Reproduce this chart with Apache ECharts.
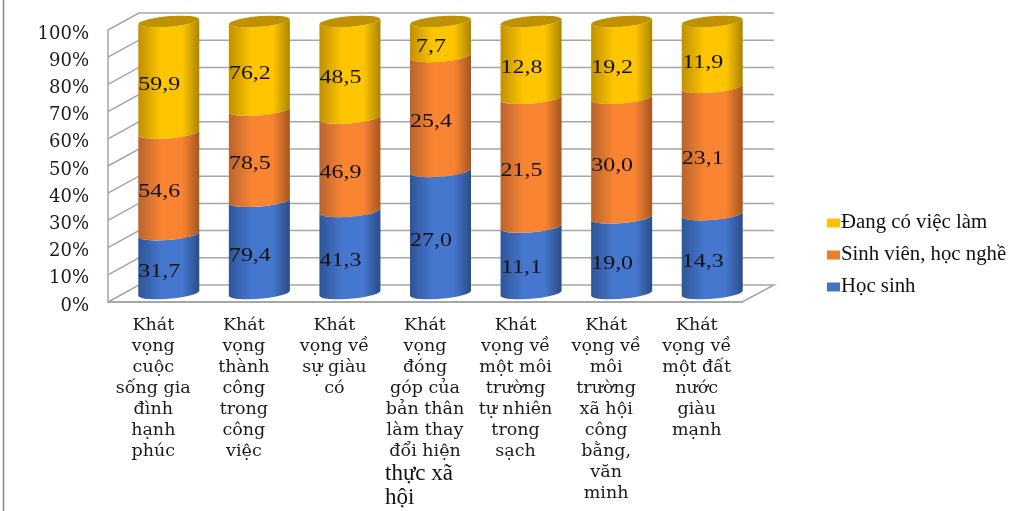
<!DOCTYPE html>
<html>
<head>
<meta charset="utf-8">
<style>
  html, body { margin: 0; padding: 0; background: #fff; }
  #chart { width: 1009px; height: 511px; }
</style>
<script src="https://cdn.jsdelivr.net/npm/echarts@6/dist/echarts.min.js"></script>
</head>
<body>
<div id="chart"></div>
<script>
const categories = [
  "Khát\nvọng\ncuộc\nsống gia\nđình\nhạnh\nphúc",
  "Khát\nvọng\nthành\ncông\ntrong\ncông\nviệc",
  "Khát\nvọng về\nsự giàu\ncó",
  "Khát\nvọng\nđóng\ngóp của\nbản thân\nlàm thay\nđổi hiện\n{big|thực xã}\n{big|hội}",
  "Khát\nvọng về\nmột môi\ntrường\ntự nhiên\ntrong\nsạch",
  "Khát\nvọng về\nmôi\ntrường\nxã hội\ncông\nbằng,\nvăn\nminh",
  "Khát\nvọng về\nmột đất\nnước\ngiàu\nmạnh"
];
const hocSinh = [31.7, 79.4, 41.3, 27.0, 11.1, 19.0, 14.3];
const sinhVien = [54.6, 78.5, 46.9, 25.4, 21.5, 30.0, 23.1];
const dangLam = [59.9, 76.2, 48.5, 7.7, 12.8, 19.2, 11.9];
const percentTicks = [0, 10, 20, 30, 40, 50, 60, 70, 80, 90, 100];

// 3D look: the plot area is the front plane, the back wall sits behind it
const DEPTH_X = 31;
const DEPTH_Y = 17;
const RADIUS = 30.5;
const TILT = 2.5;
const wallColor = "#a6a6a6";

const totals = hocSinh.map((v, i) => v + sinhVien[i] + dangLam[i]);

function stackData(values, below) {
  return values.map((v, i) => {
    const base = below.reduce((s, arr) => s + arr[i], 0);
    return [i, (base / totals[i]) * 100, ((base + v) / totals[i]) * 100, v];
  });
}

function shade(edgeL, mid, edgeR) {
  return new echarts.graphic.LinearGradient(0, 0, 1, 0, [
    { offset: 0, color: edgeL },
    { offset: 0.38, color: mid },
    { offset: 0.72, color: mid },
    { offset: 1, color: edgeR },
  ]);
}

function cylinderItem(gradient, capColor) {
  return function (params, api) {
    const i = api.value(0);
    const low = api.coord([i, api.value(1)]);
    const high = api.coord([i, api.value(2)]);
    const cx = low[0] + DEPTH_X / 2;
    const yLow = low[1] - DEPTH_Y / 2;
    const yHigh = high[1] - DEPTH_Y / 2;
    const l = cx - RADIUS;
    const r = cx + RADIUS;
    const arc = `A ${RADIUS + 0.2} 5.8 -4.7 0`;
    const d =
      `M ${l} ${yLow + TILT} ${arc} 0 ${r} ${yLow - TILT} ` +
      `L ${r} ${yHigh - TILT} ${arc} 1 ${l} ${yHigh + TILT} Z`;
    const children = [
      { type: "path", shape: { pathData: d, d: d }, style: { fill: gradient } },
    ];
    if (capColor) {
      const cap =
        `M ${l} ${yHigh + TILT} ${arc} 1 ${r} ${yHigh - TILT} ` +
        `${arc} 1 ${l} ${yHigh + TILT} Z`;
      children.push({ type: "path", shape: { pathData: cap, d: cap }, style: { fill: capColor } });
    }
    const mid = api.coord([i, (api.value(1) + api.value(2)) / 2]);
    children.push({
      type: "text",
      x: mid[0] + 6,
      y: mid[1],
      scaleX: 1.33,
      style: {
        text: api.value(3).toFixed(1).replace(".", ","),
        font: "18px 'Liberation Serif'",
        fill: "#111",
        align: "center",
        verticalAlign: "middle",
      },
    });
    return { type: "group", children: children };
  };
}

function wallItem(params, api) {
  const p = api.coord([0, api.value(0)]);
  const sys = params.coordSys;
  const left = sys.x;
  const right = sys.x + sys.width;
  const points = [
    [left, p[1]],
    [left + DEPTH_X, p[1] - DEPTH_Y],
    [right + DEPTH_X + 1, p[1] - DEPTH_Y],
  ];
  if (api.value(0) === 0) points.push([right, p[1]]);
  return {
    type: "polyline",
    shape: { points: points },
    style: { stroke: wallColor, lineWidth: 1.5, fill: null },
  };
}

const chart = echarts.init(document.getElementById("chart"));

chart.setOption({
  animation: false,
  backgroundColor: "#fff",
  grid: { left: 108, top: 30, width: 634, height: 272, containLabel: false },
  legend: {
    orient: "vertical",
    left: 827,
    top: 212.5,
    padding: 0,
    itemWidth: 13,
    itemHeight: 9,
    itemGap: 11,
    icon: "rect",
    data: ["Đang có việc làm", "Sinh viên, học nghề", "Học sinh"],
    textStyle: {
      fontFamily: "Liberation Serif",
      fontSize: 20.8,
      color: "#111",
      padding: [0, 0, 0, -4],
    },
  },
  xAxis: {
    type: "category",
    data: categories,
    axisLine: { lineStyle: { color: wallColor, width: 2 } },
    axisTick: { show: false },
    axisLabel: {
      interval: 0,
      margin: 13,
      fontFamily: "DejaVu Serif",
      fontSize: 17.5,
      lineHeight: 21,
      color: "#1a1a1a",
      rich: {
        big: {
          fontFamily: "Liberation Serif",
          fontSize: 23,
          lineHeight: 24,
          width: 80,
          align: "left",
          color: "#111",
        },
      },
    },
  },
  yAxis: {
    type: "value",
    min: 0,
    max: 100,
    interval: 10,
    axisLine: { show: true, lineStyle: { color: wallColor, width: 1.5 } },
    axisTick: { show: false },
    splitLine: { show: false },
    axisLabel: {
      formatter: "{value}%",
      margin: 19,
      verticalAlign: "top",
      lineHeight: 8,
      fontFamily: "DejaVu Serif",
      fontSize: 18,
      color: "#1a1a1a",
    },
  },
  graphic: [
    {
      type: "line",
      shape: { x1: 3.5, y1: 0, x2: 3.5, y2: 511 },
      style: { stroke: "#8c8c8c", lineWidth: 1.5 },
    },
  ],
  series: [
    {
      name: "wall",
      type: "custom",
      renderItem: wallItem,
      data: percentTicks.map((t) => [t]),
      encode: { y: 0 },
      silent: true,
      z: 1,
    },
    {
      name: "Học sinh",
      type: "custom",
      renderItem: cylinderItem(shade("#2f5597", "#4577cf", "#2b4d86")),
      data: stackData(hocSinh, []),
      encode: { x: 0, y: [1, 2] },
      itemStyle: { color: "#4472c4" },
      z: 3,
    },
    {
      name: "Sinh viên, học nghề",
      type: "custom",
      renderItem: cylinderItem(shade("#b8642c", "#f98432", "#a3561f")),
      data: stackData(sinhVien, [hocSinh]),
      encode: { x: 0, y: [1, 2] },
      itemStyle: { color: "#ed7d31" },
      z: 4,
    },
    {
      name: "Đang có việc làm",
      type: "custom",
      renderItem: cylinderItem(shade("#c09000", "#ffc600", "#a98500"), "#bf9000"),
      data: stackData(dangLam, [hocSinh, sinhVien]),
      encode: { x: 0, y: [1, 2] },
      itemStyle: { color: "#ffc000" },
      z: 5,
    },
  ],
});
</script>
</body>
</html>
